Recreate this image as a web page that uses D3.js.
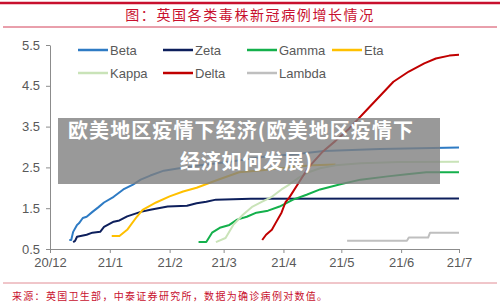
<!DOCTYPE html>
<html>
<head>
<meta charset="utf-8">
<script src="https://cdn.jsdelivr.net/npm/d3@7"></script>
<style>
  body { margin: 0; background: #fff; }
  svg { display: block; }
</style>
</head>
<body>
<div id="chart"></div>
<script>
// series: [date, log10 of confirmed cases]
const beta = [["2020-12-11",0.72],["2020-12-12",0.72],["2020-12-13",0.92],["2020-12-15",1.09],["2020-12-16",1.13],["2020-12-18",1.26],["2020-12-20",1.29],["2020-12-23",1.41],["2020-12-26",1.52],["2020-12-29",1.64],["2021-01-03",1.78],["2021-01-08",1.96],["2021-01-13",2.08],["2021-01-17",2.2],["2021-01-22",2.3],["2021-01-29",2.42],["2021-02-06",2.48],["2021-02-15",2.54],["2021-03-04",2.64],["2021-03-22",2.76],["2021-04-08",2.83],["2021-04-22",2.9],["2021-05-21",2.95],["2021-07-01",2.99]];
const zeta = [["2020-12-13",0.67],["2020-12-14",0.7],["2020-12-15",0.8],["2020-12-20",0.85],["2020-12-23",0.9],["2020-12-27",0.92],["2020-12-29",1.04],["2021-01-03",1.17],["2021-01-06",1.2],["2021-01-10",1.3],["2021-01-17",1.41],["2021-01-22",1.46],["2021-01-31",1.54],["2021-02-10",1.56],["2021-02-15",1.62],["2021-02-20",1.66],["2021-02-25",1.71],["2021-03-15",1.73],["2021-07-01",1.74]];
const gamma = [["2021-02-16",0.67],["2021-02-20",0.67],["2021-02-23",0.9],["2021-02-27",1.02],["2021-03-04",1.09],["2021-03-08",1.22],["2021-03-13",1.29],["2021-03-18",1.39],["2021-03-24",1.44],["2021-03-30",1.54],["2021-04-06",1.71],["2021-04-13",1.83],["2021-04-20",1.96],["2021-04-30",2.08],["2021-05-11",2.2],["2021-05-25",2.28],["2021-06-04",2.33],["2021-06-14",2.38],["2021-07-01",2.38]];
const eta = [["2021-01-02",0.82],["2021-01-06",0.82],["2021-01-10",0.97],["2021-01-15",1.29],["2021-01-18",1.46],["2021-01-25",1.64],["2021-02-01",1.79],["2021-02-08",1.91],["2021-02-15",2.0],["2021-02-25",2.18],["2021-03-09",2.38],["2021-03-21",2.43],["2021-03-30",2.48],["2021-04-16",2.55],["2021-04-28",2.57]];
const kappa = [["2021-02-25",0.67],["2021-03-02",0.77],["2021-03-06",1.09],["2021-03-11",1.34],["2021-03-16",1.54],["2021-03-21",1.66],["2021-03-26",1.78],["2021-03-31",1.96],["2021-04-04",2.08],["2021-04-09",2.25],["2021-04-14",2.38],["2021-04-20",2.48],["2021-04-28",2.55],["2021-05-11",2.6],["2021-05-31",2.63],["2021-07-01",2.64]];
const delta = [["2021-03-21",0.72],["2021-03-23",0.85],["2021-03-26",0.97],["2021-03-28",1.14],["2021-03-31",1.39],["2021-04-02",1.64],["2021-04-04",1.76],["2021-04-09",2.13],["2021-04-14",2.5],["2021-04-21",2.87],["2021-04-28",3.15],["2021-05-05",3.45],["2021-05-15",3.95],["2021-05-22",4.3],["2021-05-28",4.6],["2021-06-05",4.85],["2021-06-13",5.05],["2021-06-19",5.17],["2021-06-26",5.24],["2021-07-01",5.26]];
const lambda = [["2021-05-04",0.7],["2021-06-04",0.7],["2021-06-05",0.78],["2021-06-15",0.78],["2021-06-16",0.9],["2021-07-01",0.9]];

const seriesNames = ["Beta", "Zeta", "Gamma", "Eta", "Kappa", "Delta", "Lambda"];
const seriesData = [beta, zeta, gamma, eta, kappa, delta, lambda];
const seriesColors = ["#2e7bc4", "#0d1f5c", "#14b04c", "#ffc000", "#c9e3b8", "#c00000", "#bfbfbf"];

const yTicks = [0.5, 1.5, 2.5, 3.5, 4.5, 5.5];
const xTickDates = ["2020-12-01","2021-01-01","2021-02-01","2021-03-01","2021-04-01","2021-05-01","2021-06-01","2021-07-01"];
const xTickLabels = ["20/12","21/1","21/2","21/3","21/4","21/5","21/6","21/7"];

const titleText = "图：英国各类毒株新冠病例增长情况";
const sourceText = "来源：英国卫生部，中泰证券研究所，数据为确诊病例对数值。";
const watermarkLines = ["欧美地区疫情下经济(欧美地区疫情下", "经济如何发展)"];

const width = 500, height = 304;
const parse = d3.timeParse("%Y-%m-%d");
const latin = "'Liberation Sans', Arial, sans-serif";
const cjk = "'Noto Sans CJK SC', sans-serif";

const svg = d3.select("#chart").append("svg")
    .attr("width", width)
    .attr("height", height);

// header
svg.append("line").attr("x1", 0).attr("x2", 500).attr("y1", 3).attr("y2", 3)
    .attr("stroke", "#c8102e").attr("stroke-width", 2.5);
svg.append("text")
    .attr("x", 250).attr("y", 20)
    .attr("text-anchor", "middle")
    .attr("font-family", cjk)
    .attr("font-size", 14)
    .attr("letter-spacing", 1.6)
    .attr("fill", "#c8102e")
    .text(titleText);
svg.append("line").attr("x1", 3).attr("x2", 497).attr("y1", 27).attr("y2", 27)
    .attr("stroke", "#c8102e").attr("stroke-width", 0.8);

// scales
const x = d3.scaleTime()
    .domain([parse("2020-12-01"), parse("2021-07-01")])
    .range([50, 459]);
const y = d3.scaleLinear()
    .domain([0.5, 5.5])
    .range([249, 45]);

const xAxis = d3.axisBottom(x)
    .tickValues(xTickDates.map(parse))
    .tickFormat((d, i) => xTickLabels[i])
    .tickSizeInner(4).tickSizeOuter(0)
    .tickPadding(5);
const yAxis = d3.axisLeft(y)
    .tickValues(yTicks)
    .tickFormat(d3.format(".1f"))
    .tickSizeInner(4).tickSizeOuter(0)
    .tickPadding(6);

const xg = svg.append("g").attr("transform", `translate(0,${y(0.5)})`).call(xAxis);
const yg = svg.append("g").attr("transform", `translate(${x(parse("2020-12-01"))},0)`).call(yAxis);
[xg, yg].forEach(g => {
  g.selectAll("path, line").attr("stroke", "#8c8c8c");
  g.selectAll("text").attr("fill", "#595959").attr("font-family", latin).attr("font-size", 13);
});

// lines
const line = d3.line()
    .x(d => x(parse(d[0])))
    .y(d => y(d[1]));

svg.append("g").selectAll("path")
  .data(seriesData)
  .join("path")
    .attr("d", line)
    .attr("fill", "none")
    .attr("stroke", (d, i) => seriesColors[i])
    .attr("stroke-width", 2)
    .attr("stroke-linejoin", "round");

// legend
const legendPos = [[78, 50], [163, 50], [247, 50], [332, 50], [78, 73], [163, 73], [247, 73]];
const legend = svg.append("g").selectAll("g")
  .data(seriesNames)
  .join("g")
    .attr("transform", (d, i) => `translate(${legendPos[i][0]},${legendPos[i][1]})`);
legend.append("line")
    .attr("x1", 0).attr("x2", 30)
    .attr("stroke", (d, i) => seriesColors[i])
    .attr("stroke-width", 2.5);
legend.append("text")
    .attr("x", 32).attr("y", 4.5)
    .attr("font-family", latin)
    .attr("font-size", 13)
    .attr("fill", "#595959")
    .text(d => d);

// watermark box
svg.append("rect")
    .attr("x", 58).attr("y", 118)
    .attr("width", 382).attr("height", 66)
    .attr("fill", "rgba(128,128,128,0.8)");
const wmX = [68, 180], wmLen = [345, 132];
svg.append("g").selectAll("text")
  .data(watermarkLines)
  .join("text")
    .attr("x", (d, i) => wmX[i])
    .attr("y", (d, i) => 138 + i * 31)
    .attr("textLength", (d, i) => wmLen[i])
    .attr("lengthAdjust", "spacing")
    .attr("font-family", cjk)
    .attr("font-weight", "bold")
    .attr("font-size", 20)
    .attr("fill", "#fff")
    .text(d => d);

// footer
svg.append("line").attr("x1", 3).attr("x2", 497).attr("y1", 283).attr("y2", 283)
    .attr("stroke", "#d9707a").attr("stroke-width", 0.8);
svg.append("text")
    .attr("x", 12).attr("y", 300)
    .attr("font-family", cjk)
    .attr("font-size", 10)
    .attr("letter-spacing", 1.3)
    .attr("fill", "#c8102e")
    .text(sourceText);
</script>
</body>
</html>
